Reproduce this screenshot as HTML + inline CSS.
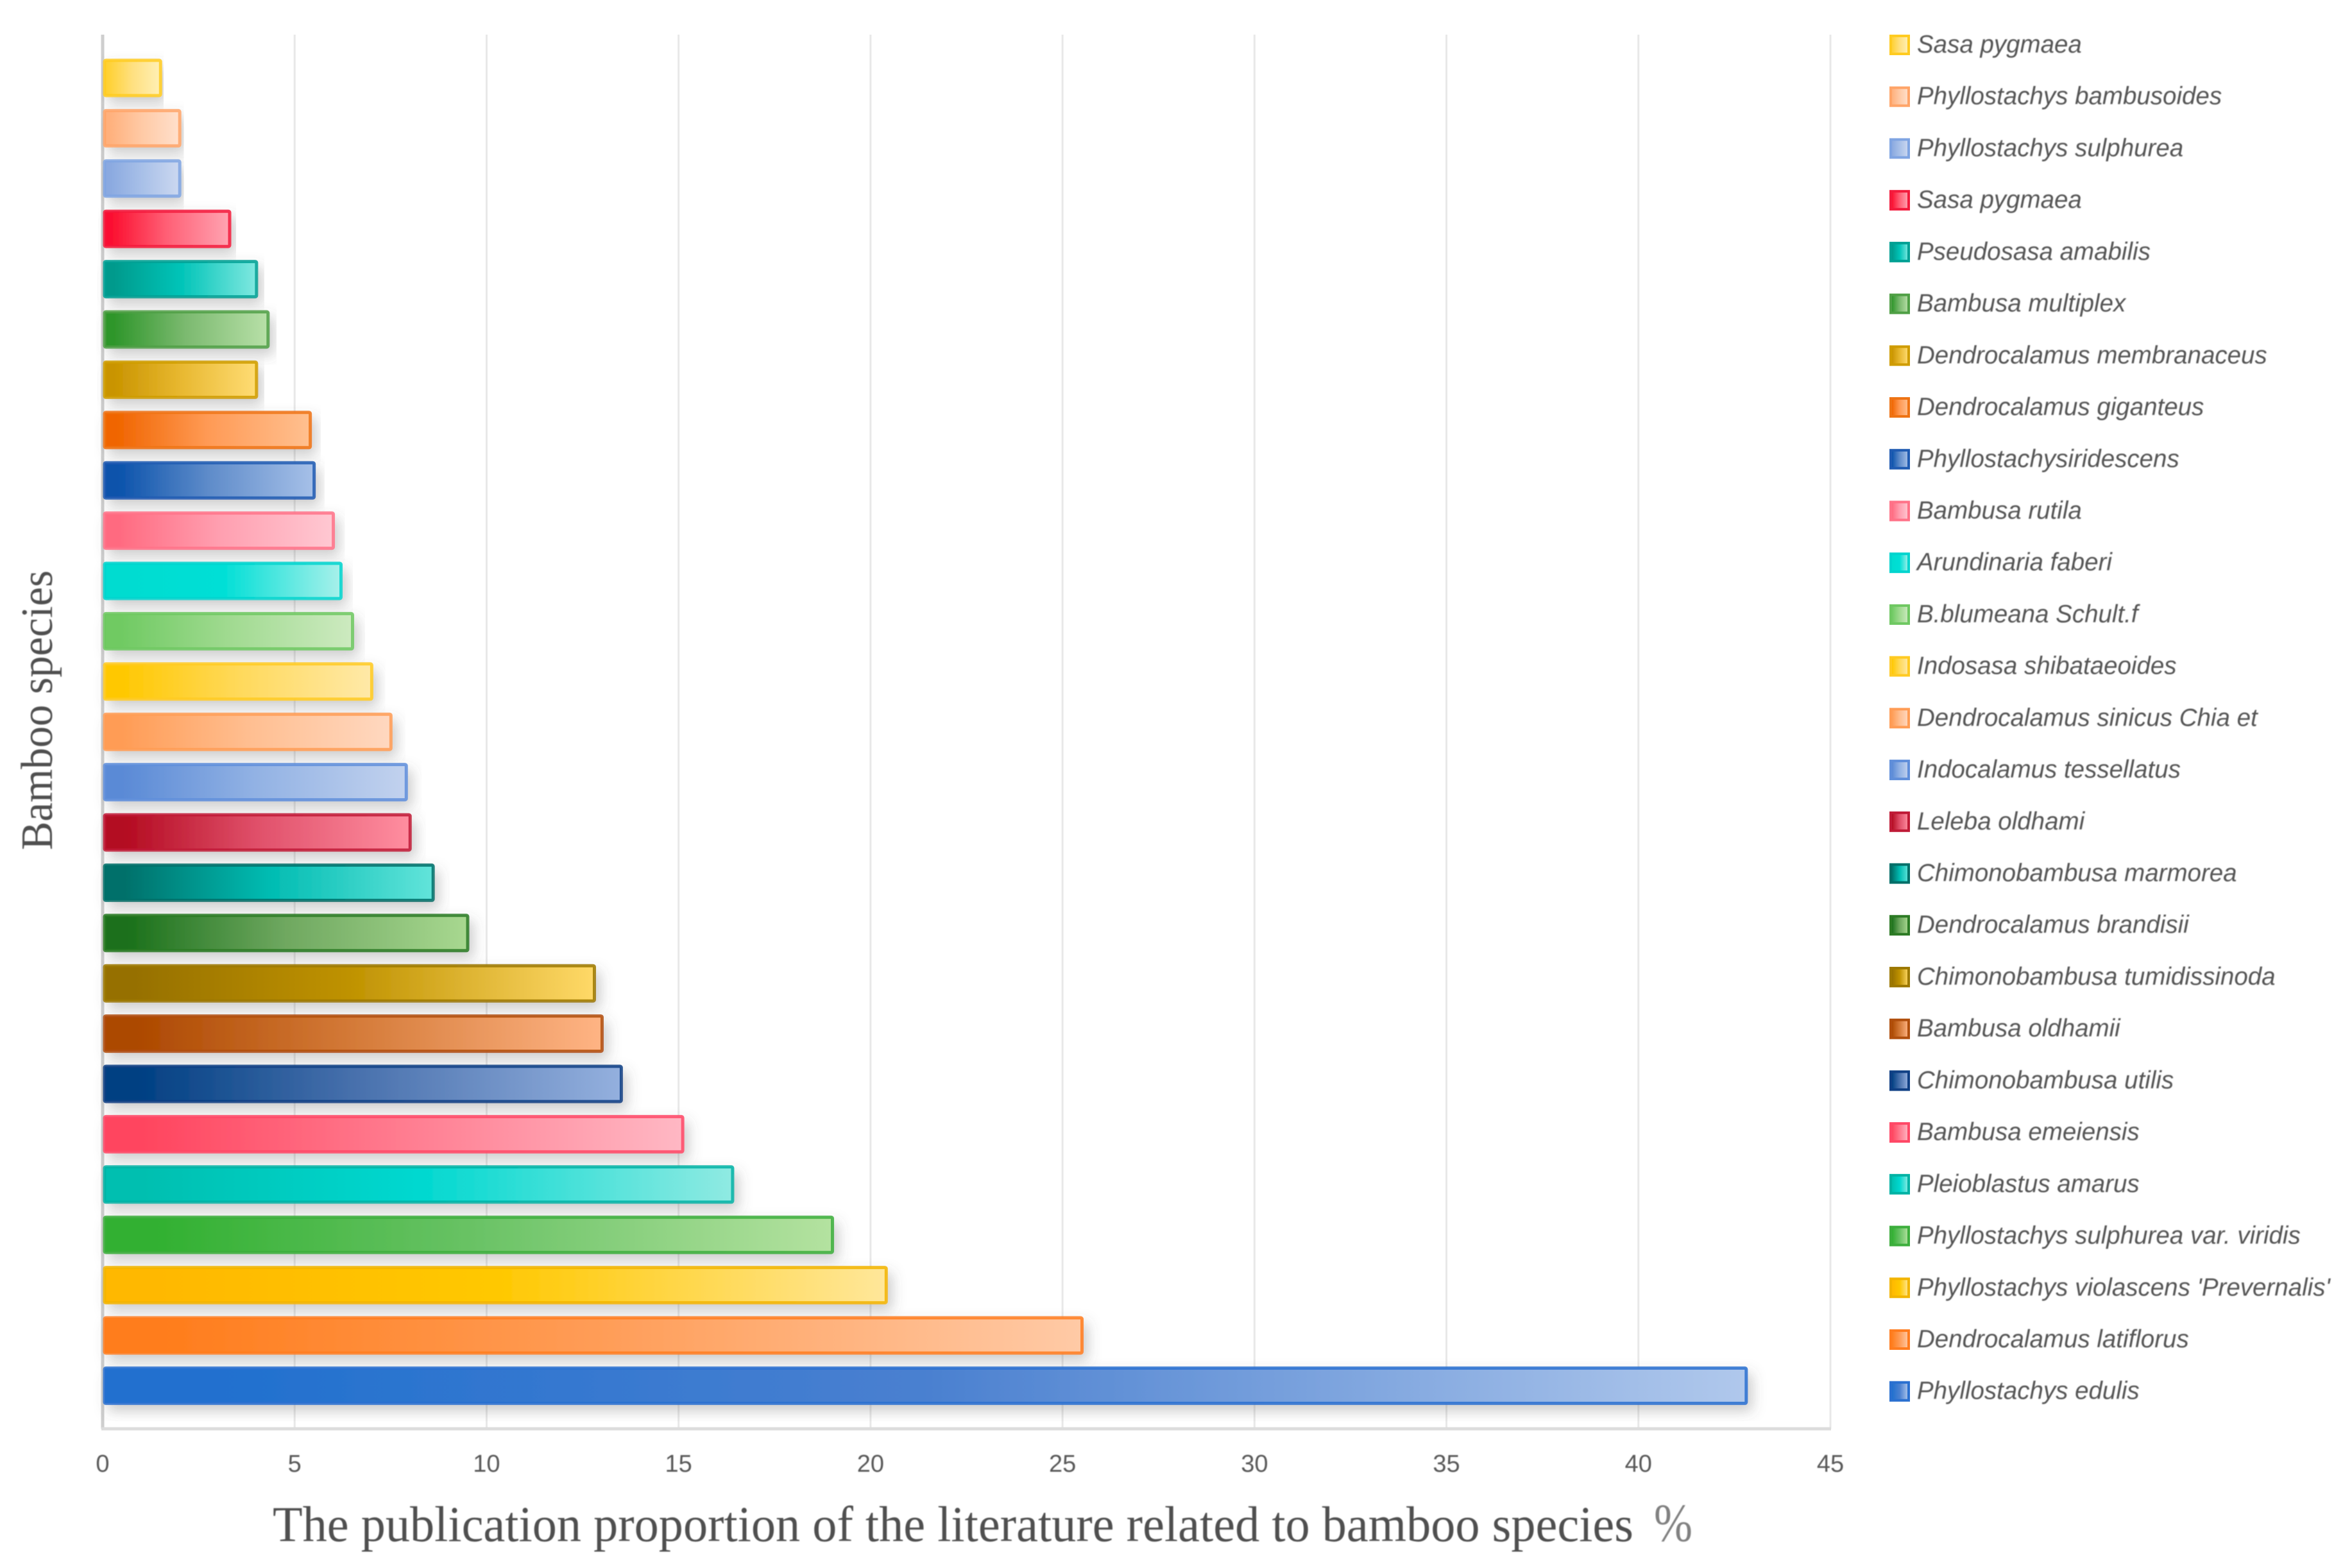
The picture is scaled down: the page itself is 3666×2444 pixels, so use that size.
<!DOCTYPE html>
<html lang="en">
<head>
<meta charset="utf-8">
<title>Bamboo species publication proportion</title>
<style>
html,body{margin:0;padding:0;background:#fff;}
body{width:3666px;height:2444px;overflow:hidden;}
svg{display:block;}
</style>
</head>
<body>
<svg id="chart" xmlns="http://www.w3.org/2000/svg" width="3666" height="2444" viewBox="0 0 3666 2444">
  <defs>
    <filter id="bar-shadow" x="-5%" y="-30%" width="110%" height="180%">
      <feDropShadow dx="7" dy="10" stdDeviation="10" flood-color="#555" flood-opacity="0.3"/>
    </filter>
    <filter id="soft" x="-2%" y="-10%" width="104%" height="120%">
      <feGaussianBlur stdDeviation="0.9"/>
    </filter>
  </defs>
  <rect width="3666" height="2444" fill="#ffffff"/>
  <g id="grid"></g>
  <g id="bars"></g>
  <g id="xticks" filter="url(#soft)"></g>
  <g id="legend"></g>
  <text x="425" y="2402" font-family="'Liberation Serif',serif" font-size="78" fill="#505050" textLength="2121" lengthAdjust="spacingAndGlyphs" filter="url(#soft)">The publication proportion of the literature related to bamboo species</text>
  <text x="2578" y="2402" font-family="'Liberation Serif',serif" font-size="84" fill="#808080" textLength="60" lengthAdjust="spacingAndGlyphs" filter="url(#soft)">%</text>
  <text transform="translate(81,1325) rotate(-90)" x="0" y="0" font-family="'Liberation Serif',serif" font-size="70" fill="#505050" textLength="436" lengthAdjust="spacingAndGlyphs" filter="url(#soft)">Bamboo species</text>
</svg>
<script>
const categories = ["Sasa pygmaea","Phyllostachys bambusoides","Phyllostachys sulphurea","Sasa pygmaea","Pseudosasa amabilis","Bambusa multiplex","Dendrocalamus membranaceus","Dendrocalamus giganteus","Phyllostachysiridescens","Bambusa rutila","Arundinaria faberi","B.blumeana Schult.f","Indosasa shibataeoides","Dendrocalamus sinicus Chia et","Indocalamus tessellatus","Leleba oldhami","Chimonobambusa marmorea","Dendrocalamus brandisii","Chimonobambusa tumidissinoda","Bambusa oldhamii","Chimonobambusa utilis","Bambusa emeiensis","Pleioblastus amarus","Phyllostachys sulphurea var. viridis","Phyllostachys violascens 'Prevernalis'","Dendrocalamus latiflorus","Phyllostachys edulis"];
const values = [1.5,2.0,2.0,3.3,4.0,4.3,4.0,5.4,5.5,6.0,6.2,6.5,7.0,7.5,7.9,8.0,8.6,9.5,12.8,13.0,13.5,15.1,16.4,19.0,20.4,25.5,42.8];
const xTicks = [0,5,10,15,20,25,30,35,40,45];
const gradStart = ["#ffd133","#ffb07c","#8aa9e0","#fb1030","#009a8c","#2f962b","#c99400","#f06500","#0a52ab","#ff6a80","#00dcd0","#6fca62","#ffc800","#ff9c55","#5a8ad6","#b30a20","#00706a","#1a701a","#967000","#ac4800","#003f82","#ff445e","#00bfb0","#30b030","#ffb800","#ff7d1c","#2070cf"];
const gradMid = ["#ffe080","#ffcaa6","#a8c0e8","#ff6076","#00c4b8","#7cba70","#e8b830","#ff9a55","#5f8cca","#ff9fb0","#00dfd6","#a0da90","#ffd95a","#ffbe90","#92b2e4","#e0506a","#00bcb2","#6fa860","#bf9200","#d47a38","#4a72ae","#ff7a8e","#00d8d0","#68c264","#ffc800","#ff9c56","#4a80d0"];
const gradEnd = ["#fff0b6","#ffe0cc","#ccd8f0","#ffa4b2","#80e8e0","#b8e0a8","#ffdc74","#ffc090","#a6c0e8","#ffc8d2","#a8f0ea","#cdeac0","#ffe9a8","#ffd8c0","#c2d2ee","#ff8ea0","#62e4da","#a8d890","#ffd968","#ffb484","#94b0de","#ffb8c4","#90eae2","#b4e2a0","#ffe79a","#ffcaa6","#b0c8ec"];
const edgeColors = ["#ffcb20","#ffa468","#7fa4e2","#f31a3c","#00a094","#4f9f45","#cf9c00","#ee7314","#1f5bb2","#ff7288","#00d4ce","#6fc862","#ffca22","#ff9c55","#5f8eda","#bf1a36","#006e68","#2c7a24","#9c7800","#b04e0c","#0f3f84","#ff4866","#00b2a4","#3cae3c","#f2b400","#ff7c1e","#2a70d0"];

const plotLeft = 160, plotRight = 2853, plotTop = 54, plotBottom = 2227, axisMax = 45;
const barTop = 121.5, barPitch = 78.4, barHeight = 60, barEndPad = 3;
const legendTop = 70, legendPitch = 80.72, legendSwatchX = 2945, legendTextX = 2988, swatchW = 32, swatchH = 32;
const NS = "http://www.w3.org/2000/svg";
function sx(v){ return plotLeft + (v / axisMax) * (plotRight - plotLeft); }
function barY(i){ return barTop + i * barPitch; }
function legendY(i){ return legendTop + i * legendPitch; }
function mk(tag, attrs){
  const el = document.createElementNS(NS, tag);
  for (const k in attrs) el.setAttribute(k, attrs[k]);
  return el;
}
const defs = document.querySelector("defs");
categories.forEach(function(c, i){
  const g = mk("linearGradient", {id: "grad" + i, x1: "0", y1: "0", x2: "1", y2: "0"});
  g.appendChild(mk("stop", {offset: "0.06", "stop-color": gradStart[i]}));
  g.appendChild(mk("stop", {offset: "0.5", "stop-color": gradMid[i]}));
  g.appendChild(mk("stop", {offset: "1", "stop-color": gradEnd[i]}));
  defs.appendChild(g);
});

const grid = document.getElementById("grid");
xTicks.forEach(function(t){
  const l = mk("line", {x1: sx(t), x2: sx(t), y1: plotTop, y2: plotBottom, stroke: t === 0 ? "#cecece" : "#e8e8e8", "stroke-width": t === 0 ? 5 : 3});
  
  
  grid.appendChild(l);
});
const baseAxis = mk("line", {x1: plotLeft - 2, x2: plotRight + 1, y1: plotBottom, y2: plotBottom, stroke: "#dcdcdc", "stroke-width": 5});


grid.appendChild(baseAxis);

const barsG = document.getElementById("bars");
values.forEach(function(v, i){
  const cy = barY(i), r = sx(v) + barEndPad;
  const bar = mk("rect", {x: plotLeft + 3, y: cy - barHeight / 2 + 2.5, width: r - plotLeft - 5.5, height: barHeight - 5, rx: 2, fill: "url(#grad" + i + ")", stroke: edgeColors[i], "stroke-opacity": 0.85, "stroke-width": 5, filter: "url(#bar-shadow)"});
  
  
  barsG.appendChild(bar);
});

const xt = document.getElementById("xticks");
xTicks.forEach(function(t){
  const label = mk("text", {x: sx(t), y: 2294, "text-anchor": "middle", "font-family": "'Liberation Sans',sans-serif", "font-size": 38, fill: "#595959"});
  
  
  label.textContent = t;
  xt.appendChild(label);
});

const legend = document.getElementById("legend");
categories.forEach(function(c, i){
  const cy = legendY(i);
  const sw = mk("rect", {x: legendSwatchX + 2, y: cy - swatchH / 2 + 2, width: swatchW - 4, height: swatchH - 4, fill: "url(#grad" + i + ")", stroke: edgeColors[i], "stroke-width": 4});
  
  
  legend.appendChild(sw);
  const tx = mk("text", {x: legendTextX, y: cy + 12, "font-family": "'Liberation Sans',sans-serif", "font-style": "italic", "font-size": 38.5, fill: "#555555", filter: "url(#soft)"});
  
  
  tx.textContent = c;
  legend.appendChild(tx);
});
</script>
</body>
</html>
